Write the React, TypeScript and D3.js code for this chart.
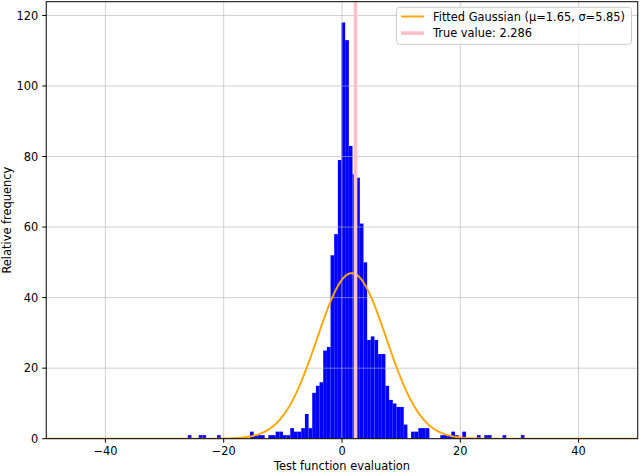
import React from "react";
import * as d3 from "d3";

// ---- data ----
const binStart = -26.07;
const binWidth = 0.6188;
const counts = [
  1, 0, 0, 1, 1, 0, 0, 0, 1, 0,
  0, 0, 0, 0, 0, 0, 0, 2, 1, 1,
  1, 0, 1, 1, 2, 2, 1, 1, 3, 2,
  2, 3, 7, 3, 13, 15, 16, 25, 26, 52,
  58, 79, 118, 113, 83, 75, 74, 61, 50, 28,
  29, 28, 24, 24, 15, 11, 10, 9, 9, 4,
  0, 2, 2, 3, 3, 3, 0, 0, 0, 1,
  1, 1, 2, 1, 0, 2, 0, 0, 0, 1,
  0, 1, 1, 0, 0, 0, 1, 0, 0, 0,
  0, 1,
];
const gaussMu = 1.65;
const gaussSigma = 5.85;
const trueValue = 2.286;
const xDomain = [-50, 50];
const xTicks = [-40, -20, 0, 20, 40];
const yTicks = [0, 20, 40, 60, 80, 100, 120];
const xLabel = "Test function evaluation";
const yLabel = "Relative frequency";
const legendLabels = ["Fitted Gaussian (μ=1.65, σ=5.85)", "True value: 2.286"];

const W = 640;
const H = 472;
const L = 46.25;
const R = 637.75;
const T = 1.7;
const B = 438.7;
const FONT = "DejaVu Sans, sans-serif";
const FS = 11.4;

export default function App() {
  const x = d3.scaleLinear().domain(xDomain).range([L, R]);
  const yMax = d3.max(counts)! * 1.05;
  const y = d3.scaleLinear().domain([0, yMax]).range([B, T]);
  const fmt = d3.format("d");

  const total = d3.sum(counts);
  const amp = (total * binWidth) / (gaussSigma * Math.sqrt(2 * Math.PI));
  const gx = d3.range(0, 1001).map((i) => xDomain[0] + (i * (xDomain[1] - xDomain[0])) / 1000);
  const line = d3
    .line<number>()
    .x((v) => x(v))
    .y((v) => y(amp * Math.exp(-((v - gaussMu) ** 2) / (2 * gaussSigma ** 2))));

  const legW = 235;
  const legX = R - 6.25 - legW;
  const legY = T + 5.6;
  const legH = 37;

  return (
    <svg
      width={W}
      height={H}
      style={{ position: "absolute", left: 0, top: 0, background: "#fff" }}
      fontFamily={FONT}
    >
      <defs>
        <clipPath id="plotclip">
          <rect x={L} y={T} width={R - L} height={B - T} />
        </clipPath>
      </defs>
      <rect x={0} y={0} width={W} height={H} fill="#fff" />
      <g clipPath="url(#plotclip)">
        {counts.map((c, i) =>
          c > 0 ? (
            <rect
              key={i}
              x={x(binStart + i * binWidth)}
              y={y(c)}
              width={x(binStart + (i + 1) * binWidth) - x(binStart + i * binWidth)}
              height={y(0) - y(c)}
              fill="#0000ff"
            />
          ) : null
        )}
        {xTicks.map((t) => (
          <line key={"gx" + t} x1={x(t)} x2={x(t)} y1={T} y2={B} stroke="#b0b0b0" strokeOpacity={0.6} strokeWidth={1} />
        ))}
        {yTicks.map((t) => (
          <line key={"gy" + t} x1={L} x2={R} y1={y(t)} y2={y(t)} stroke="#b0b0b0" strokeOpacity={0.6} strokeWidth={1} />
        ))}
        <path d={line(gx) || ""} fill="none" stroke="#ffa500" strokeWidth={1.9} />
        <line x1={x(trueValue)} x2={x(trueValue)} y1={T} y2={B} stroke="#ffc0cb" strokeWidth={3.7} />
      </g>
      {/* spines */}
      <rect x={L} y={T} width={R - L} height={B - T} fill="none" stroke="#000" strokeWidth={1} />
      {/* ticks */}
      {xTicks.map((t) => (
        <g key={"tx" + t}>
          <line x1={x(t)} x2={x(t)} y1={B} y2={B + 4} stroke="#000" strokeWidth={1} />
          <text x={x(t)} y={B + 8} dy="0.76em" textAnchor="middle" fontSize={FS} fill="#000">
            {fmt(t)}
          </text>
        </g>
      ))}
      {yTicks.map((t) => (
        <g key={"ty" + t}>
          <line x1={L - 4} x2={L} y1={y(t)} y2={y(t)} stroke="#000" strokeWidth={1} />
          <text x={L - 8} y={y(t)} dy="0.36em" textAnchor="end" fontSize={FS} fill="#000">
            {fmt(t)}
          </text>
        </g>
      ))}
      <text x={(L + R) / 2} y={470} textAnchor="middle" fontSize={FS} fill="#000">
        {xLabel}
      </text>
      <text
        transform={`translate(${11},${(T + B) / 2}) rotate(-90)`}
        textAnchor="middle"
        fontSize={FS}
        fill="#000"
      >
        {yLabel}
      </text>
      {/* legend */}
      <rect x={legX} y={legY} width={legW} height={legH} rx={3} fill="#fff" fillOpacity={0.8} stroke="#cccccc" strokeWidth={1} />
      <line x1={legX + 4.6} x2={legX + 4.6 + 22.8} y1={legY + 9.2} y2={legY + 9.2} stroke="#ffa500" strokeWidth={1.9} />
      <text x={legX + 4.6 + 22.8 + 9.1} y={legY + 9.2} dy="0.36em" fontSize={FS} fill="#000">
        {legendLabels[0]}
      </text>
      <line x1={legX + 4.6} x2={legX + 4.6 + 22.8} y1={legY + 25.8} y2={legY + 25.8} stroke="#ffc0cb" strokeWidth={3.7} />
      <text x={legX + 4.6 + 22.8 + 9.1} y={legY + 25.8} dy="0.36em" fontSize={FS} fill="#000">
        {legendLabels[1]}
      </text>
    </svg>
  );
}
